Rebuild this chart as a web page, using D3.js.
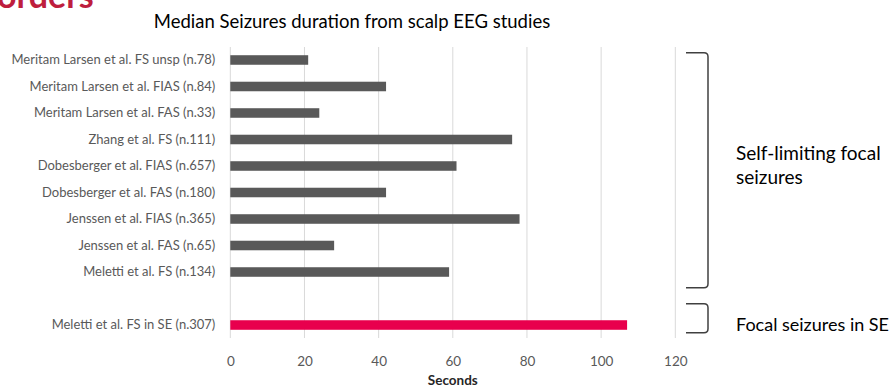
<!DOCTYPE html>
<html><head><meta charset="utf-8">
<script src="https://cdn.jsdelivr.net/npm/d3@7"></script>
<style>
html,body{margin:0;padding:0;background:#fff;}
svg{display:block;font-family:Lato, "Open Sans", sans-serif;}
</style></head>
<body>
<script>
const categories = [
  "Meritam Larsen et al. FS unsp (n.78)",
  "Meritam Larsen et al. FIAS (n.84)",
  "Meritam Larsen et al. FAS (n.33)",
  "Zhang et al. FS (n.111)",
  "Dobesberger et al. FIAS (n.657)",
  "Dobesberger et al. FAS (n.180)",
  "Jenssen et al. FIAS (n.365)",
  "Jenssen et al. FAS (n.65)",
  "Meletti et al. FS (n.134)",
  "Meletti et al. FS in SE (n.307)"
];
const values = [21, 42, 24, 76, 61, 42, 78, 28, 59, 107];
const highlight = [false, false, false, false, false, false, false, false, false, true];
const xTicks = [0, 20, 40, 60, 80, 100, 120];
const title = "Median Seizures duration from scalp EEG studies";
const xTitle = "Seconds";
const groupLabels = [["Self-limiting focal", "seizures"], ["Focal seizures in SE"]];

const W = 894, H = 387;
const svg = d3.select("body").append("svg").attr("width", W).attr("height", H);

// partial header text cut at the top (as in the reference)
svg.append("text").attr("x", -3).attr("y", 8)
  .attr("font-size", 34).attr("font-weight", 700).attr("fill", "#BE1E3E")
  .attr("font-family", "Lato, sans-serif").text("orders");

svg.append("text").attr("x", 352).attr("y", 27.5).attr("text-anchor", "middle")
  .attr("font-size", 18.5).attr("fill", "#000").text(title);

const spacer = "__gap__";
const domain = categories.slice(0, 9).concat([spacer, categories[9]]);

const x = d3.scaleLinear().domain([0, 120]).range([230.3, 675.3]);
const y = d3.scaleBand().domain(domain).range([47, 338]).paddingInner(0.64).paddingOuter(0.31);

// gridlines
svg.append("g").selectAll("line").data(xTicks).join("line")
  .attr("x1", d => x(d)).attr("x2", d => x(d))
  .attr("y1", 47).attr("y2", 338)
  .attr("stroke", "#d9d9d9").attr("stroke-width", 1);

// bars
svg.append("g").selectAll("rect").data(categories).join("rect")
  .attr("x", x(0)).attr("y", d => y(d))
  .attr("width", (d, i) => x(values[i]) - x(0))
  .attr("height", y.bandwidth())
  .attr("fill", (d, i) => highlight[i] ? "#E8004D" : "#595959");

// y labels
const yAxis = d3.axisLeft(y).tickSize(0).tickPadding(15).tickFormat(d => d === spacer ? "" : d);
const gy = svg.append("g").attr("transform", `translate(${x(0)},0)`).call(yAxis);
gy.select(".domain").remove();
gy.selectAll("text").attr("font-size", 13).attr("fill", "#595959").attr("font-family", "Lato, sans-serif");

// x axis
const xAxis = d3.axisBottom(x).tickValues(xTicks).tickSize(0).tickPadding(18);
const gx = svg.append("g").attr("transform", `translate(0,338)`).call(xAxis);
gx.select(".domain").remove();
gx.selectAll("text").attr("font-size", 13.5).attr("fill", "#595959").attr("font-family", "Lato, sans-serif");

svg.append("text").attr("x", x(60)).attr("y", 385).attr("text-anchor", "middle")
  .attr("font-size", 13.5).attr("font-weight", 700).attr("fill", "#262626").text(xTitle);

// brackets
function bracket(top, bottom) {
  const xl = 686, xr = 708, r = 4;
  return `M${xl},${top} L${xr - r},${top} Q${xr},${top} ${xr},${top + r} L${xr},${bottom - r} Q${xr},${bottom} ${xr - r},${bottom} L${xl},${bottom}`;
}
const bTop1 = y(categories[0]) - 2.5, bBot1 = y(categories[8]) + y.bandwidth() + 11;
const bTop2 = y(categories[9]) - 16.5, bBot2 = y(categories[9]) + y.bandwidth() + 3;
svg.append("path").attr("d", bracket(bTop1, bBot1)).attr("fill", "none").attr("stroke", "#404040").attr("stroke-width", 1.5);
svg.append("path").attr("d", bracket(bTop2, bBot2)).attr("fill", "none").attr("stroke", "#404040").attr("stroke-width", 1.5);

svg.append("text").attr("x", 736).attr("y", 160).attr("font-size", 19).attr("fill", "#000")
  .selectAll("tspan").data(groupLabels[0]).join("tspan")
  .attr("x", 736).attr("dy", (d, i) => i === 0 ? 0 : 23.5).text(d => d);
svg.append("text").attr("x", 736).attr("y", 331).attr("font-size", 18).attr("fill", "#000").text(groupLabels[1][0]);
</script>
</body></html>
